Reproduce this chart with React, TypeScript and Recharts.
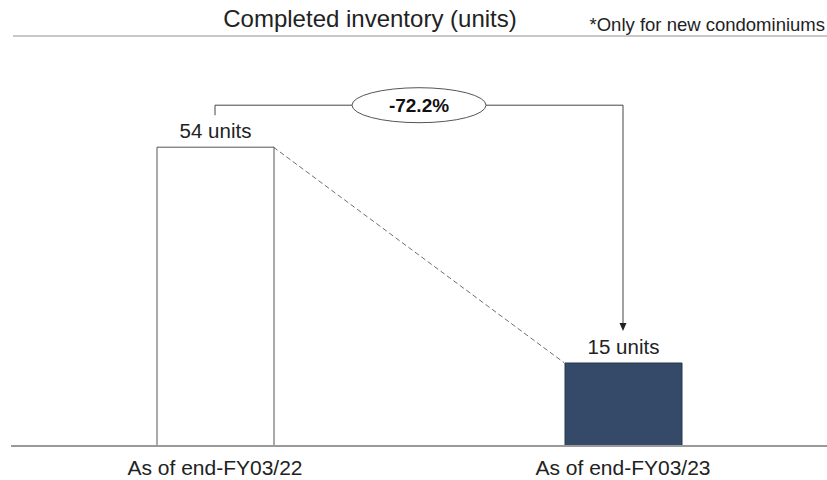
import React from 'react';
import * as Recharts from 'recharts';

const { ComposedChart, Bar, XAxis, YAxis, Cell, LabelList, Customized } = Recharts as any;
const R: any = Recharts;

// ---- data ----
const categories = ['As of end-FY03/22', 'As of end-FY03/23'];
const inventoryUnits = [54, 15];
const barFills = ['#ffffff', '#344a68'];
const barStrokes = ['#555555', '#26364d'];
const titleText = 'Completed inventory (units)';
const noteText = '*Only for new condominiums';
const unitSuffix = ' units';

const data = categories.map((c, i) => ({ name: c, value: inventoryUnits[i] }));

// ---- layout ----
const W = 827;
const H = 480;
const Y_MAX = 60;
const BAR_SIZE = 117;
const MARGIN = { top: 114, right: 0, bottom: 0, left: 11 };
const X_AXIS_H = 34;
const FONT = '"Liberation Sans", Arial, Helvetica, sans-serif';

function usePlot() {
  if (typeof R.usePlotArea === 'function') {
    const p = R.usePlotArea();
    if (p) return p;
  } else if (typeof R.useOffset === 'function') {
    const o = R.useOffset();
    if (o) return { x: o.left, y: o.top, width: o.width, height: o.height };
  }
  return {
    x: MARGIN.left,
    y: MARGIN.top,
    width: W - MARGIN.left - MARGIN.right,
    height: H - MARGIN.top - MARGIN.bottom - X_AXIS_H,
  };
}

function Annotations() {
  const plot = usePlot();
  const yPx = (v: number) => plot.y + plot.height * (1 - v / Y_MAX);
  const band = plot.width / categories.length;
  const cx = (i: number) => plot.x + band * (i + 0.5);
  const half = BAR_SIZE / 2;

  const v0 = inventoryUnits[0];
  const v1 = inventoryUnits[1];
  const pct = (((v1 - v0) / v0) * 100).toFixed(1) + '%';

  const bracketY = yPx(Math.max(v0, v1)) - 42;
  const leftLegBottom = bracketY + 10;
  const x0 = cx(0);
  const x1 = cx(1);
  const midX = (x0 + x1) / 2;
  const rx = 67;
  const ry = 17.5;
  const tipY = yPx(v1) - 32;
  const headH = 8;
  const headW = 3.5;

  return (
    <g>
      {/* title & header line */}
      <text x={370} y={27} textAnchor="middle" fontSize={24} fill="#222" fontFamily={FONT}>
        {titleText}
      </text>
      <text x={825} y={31} textAnchor="end" fontSize={18.5} fill="#222" fontFamily={FONT}>
        {noteText}
      </text>
      <line x1={13} x2={W} y1={36} y2={36} stroke="#c8c8c8" strokeWidth={2} />

      {/* dashed connector between bar tops */}
      <line
        x1={x0 + half}
        y1={yPx(v0)}
        x2={x1 - half}
        y2={yPx(v1)}
        stroke="#6e6e6e"
        strokeWidth={1}
        strokeDasharray="5 3"
      />

      {/* bracket */}
      <polyline
        points={`${x0},${leftLegBottom} ${x0},${bracketY} ${midX - rx},${bracketY}`}
        fill="none"
        stroke="#444"
        strokeWidth={1}
      />
      <polyline
        points={`${midX + rx},${bracketY} ${x1},${bracketY} ${x1},${tipY - headH}`}
        fill="none"
        stroke="#444"
        strokeWidth={1}
      />
      <polygon
        points={`${x1 - headW},${tipY - headH} ${x1 + headW},${tipY - headH} ${x1},${tipY}`}
        fill="#222"
      />
      <ellipse cx={midX} cy={bracketY} rx={rx} ry={ry} fill="#fff" stroke="#555" strokeWidth={1} />
      <text
        x={midX}
        y={bracketY + 7}
        textAnchor="middle"
        fontSize={19}
        fontWeight="bold"
        fill="#111"
        fontFamily={FONT}
      >
        {pct}
      </text>
    </g>
  );
}

const renderValueLabel = (props: any) => {
  const { x, y, width, value } = props;
  return (
    <text
      x={Number(x) + Number(width) / 2}
      y={Number(y) - 9}
      textAnchor="middle"
      fontSize={20.5}
      fill="#222"
      fontFamily={FONT}
    >
      {`${value}${unitSuffix}`}
    </text>
  );
};

export default function App() {
  return (
    <div style={{ position: 'absolute', left: 0, top: 0, width: W, height: H, background: '#fff' }}>
      <ComposedChart width={W} height={H} data={data} margin={MARGIN}>
        <XAxis
          dataKey="name"
          height={X_AXIS_H}
          tickLine={false}
          axisLine={{ stroke: '#9a9a9a', strokeWidth: 2 }}
          tickMargin={8}
          tick={{ fontSize: 21, fill: '#222', fontFamily: FONT }}
          interval={0}
        />
        <YAxis hide domain={[0, Y_MAX]} type="number" />
        <Bar dataKey="value" barSize={BAR_SIZE} isAnimationActive={false}>
          {data.map((_, i) => (
            <Cell key={i} fill={barFills[i]} stroke={barStrokes[i]} strokeWidth={1} />
          ))}
          <LabelList dataKey="value" content={renderValueLabel} />
        </Bar>
        <Customized component={Annotations} />
      </ComposedChart>
    </div>
  );
}
